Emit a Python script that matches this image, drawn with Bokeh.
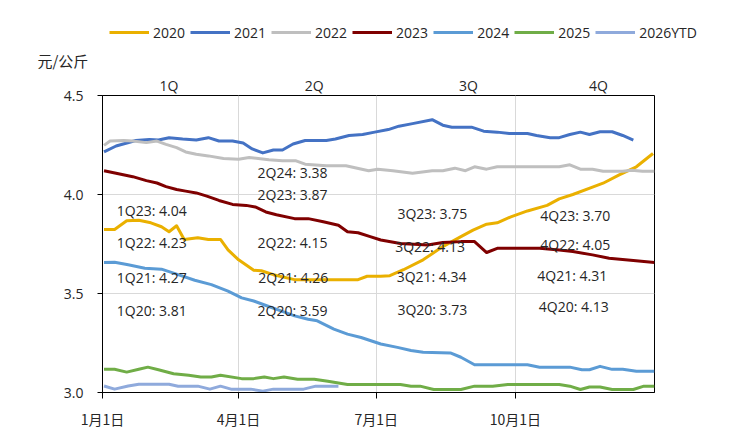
from bokeh.plotting import figure
from bokeh.layouts import column
from bokeh.models import FixedTicker, LinearAxis, Legend, LegendItem, Range1d
from bokeh.core.properties import value
from bokeh.embed import file_html
from bokeh.resources import INLINE

# ---------------- data ----------------
series_names = ["2020", "2021", "2022", "2023", "2024", "2025", "2026YTD"]
series_colors = ["#EAB000", "#4472C4", "#BFBFBF", "#7F0000", "#5B9BD5", "#70AD47", "#8FAADC"]

days_2020 = [1, 8, 16, 24, 32, 39, 44, 49, 54, 63, 70, 78, 83, 90, 100, 105, 113, 127, 138, 149,
             169, 175, 184, 190, 199, 212, 225, 237, 245, 254, 261, 270, 281, 294, 302, 311, 324,
             331, 342, 353, 364]
vals_2020 = [3.823, 3.823, 3.867, 3.87, 3.857, 3.837, 3.812, 3.842, 3.773, 3.782, 3.773, 3.773,
             3.72, 3.67, 3.617, 3.615, 3.595, 3.57, 3.57, 3.57, 3.57, 3.587, 3.587, 3.59, 3.62,
             3.67, 3.737, 3.787, 3.82, 3.85, 3.857, 3.887, 3.917, 3.945, 3.978, 4.0, 4.037,
             4.057, 4.1, 4.14, 4.207]

days_2021 = [1, 9, 22, 31, 37, 44, 53, 62, 70, 77, 86, 93, 99, 106, 113, 119, 126, 134, 148,
             154, 163, 172, 180, 189, 196, 205, 218, 225, 231, 244, 252, 261, 269, 281, 287, 296,
             302, 309, 316, 322, 329, 337, 344, 351]
vals_2021 = [4.215, 4.245, 4.273, 4.278, 4.275, 4.287, 4.28, 4.275, 4.287, 4.27, 4.27, 4.26,
             4.23, 4.21, 4.225, 4.225, 4.255, 4.273, 4.273, 4.28, 4.298, 4.303, 4.315, 4.328,
             4.345, 4.358, 4.378, 4.35, 4.34, 4.34, 4.32, 4.315, 4.308, 4.308, 4.298, 4.287,
             4.287, 4.303, 4.315, 4.303, 4.317, 4.317, 4.298, 4.275]

days_2022 = [1, 5, 14, 20, 29, 36, 42, 49, 55, 62, 70, 80, 90, 97, 103, 110, 119, 128, 134,
             148, 161, 176, 182, 192, 205, 218, 225, 233, 240, 246, 254, 261, 276, 302, 309, 316,
             324, 331, 344, 350, 357, 365]
vals_2022 = [4.248, 4.27, 4.273, 4.27, 4.262, 4.27, 4.253, 4.237, 4.215, 4.203, 4.195, 4.182,
             4.178, 4.187, 4.182, 4.175, 4.17, 4.17, 4.153, 4.145, 4.145, 4.12, 4.128, 4.12,
             4.107, 4.12, 4.12, 4.133, 4.12, 4.14, 4.128, 4.14, 4.14, 4.14, 4.15, 4.128, 4.128,
             4.117, 4.117, 4.123, 4.117, 4.117]

days_2023 = [1, 9, 20, 29, 36, 42, 49, 55, 62, 69, 77, 86, 95, 101, 108, 115, 127, 136, 146,
             156, 162, 169, 177, 184, 197, 215, 225, 237, 246, 254, 261, 274, 289, 302, 311,
             324, 335, 351, 365]
vals_2023 = [4.12, 4.107, 4.09, 4.07, 4.058, 4.04, 4.025, 4.017, 4.008, 3.992, 3.97, 3.95,
             3.945, 3.937, 3.912, 3.898, 3.878, 3.878, 3.862, 3.845, 3.812, 3.807, 3.787, 3.77,
             3.753, 3.745, 3.758, 3.762, 3.762, 3.707, 3.728, 3.728, 3.728, 3.72, 3.712, 3.695,
             3.678, 3.667, 3.657]

days_2024 = [1, 8, 17, 28, 39, 50, 61, 72, 83, 92, 100, 109, 118, 127, 136, 142, 153, 162,
             171, 184, 195, 204, 212, 230, 237, 246, 281, 289, 309, 317, 322, 329, 337, 344,
             353, 365]
vals_2024 = [3.657, 3.658, 3.645, 3.628, 3.623, 3.595, 3.567, 3.545, 3.512, 3.478, 3.462,
             3.437, 3.412, 3.387, 3.37, 3.362, 3.32, 3.295, 3.278, 3.245, 3.228, 3.212, 3.203,
             3.2, 3.178, 3.14, 3.14, 3.128, 3.128, 3.115, 3.115, 3.132, 3.117, 3.117, 3.107,
             3.107]

days_2025 = [1, 8, 16, 24, 30, 37, 47, 57, 65, 72, 78, 92, 100, 107, 113, 120, 129, 140, 149,
             162, 184, 197, 204, 210, 219, 237, 246, 258, 268, 302, 309, 316, 322, 329, 337,
             351, 358, 365]
vals_2025 = [3.117, 3.117, 3.103, 3.117, 3.128, 3.115, 3.095, 3.087, 3.078, 3.078, 3.087,
             3.07, 3.07, 3.078, 3.07, 3.078, 3.067, 3.067, 3.057, 3.04, 3.04, 3.04, 3.032,
             3.032, 3.015, 3.015, 3.032, 3.032, 3.04, 3.04, 3.032, 3.015, 3.028, 3.028, 3.015,
             3.015, 3.032, 3.032]

days_2026 = [1, 8, 17, 24, 44, 50, 63, 71, 78, 85, 98, 106, 113, 133, 141, 156]
vals_2026 = [3.033, 3.017, 3.033, 3.042, 3.042, 3.032, 3.032, 3.017, 3.032, 3.017, 3.017,
             3.007, 3.017, 3.017, 3.032, 3.032]

x_tick_days = [0, 90, 181, 273]
x_tick_labels = ["1月1日", "4月1日", "7月1日", "10月1日"]
y_ticks = [3.0, 3.5, 4.0, 4.5]
quarter_days = [44, 140, 242, 328]
quarter_labels = ["1Q", "2Q", "3Q", "4Q"]
unit_label = "元/公斤"

ann_labels = ["1Q23: 4.04", "1Q22: 4.23", "1Q21: 4.27", "1Q20: 3.81",
              "2Q24: 3.38", "2Q23: 3.87", "2Q22: 4.15", "2Q21: 4.26", "2Q20: 3.59",
              "3Q23: 3.75", "3Q22: 4.13", "3Q21: 4.34", "3Q20: 3.73",
              "4Q23: 3.70", "4Q22: 4.05", "4Q21: 4.31", "4Q20: 4.13"]
ann_days = [9.5, 9.5, 9.5, 9.5,
            102.5, 102.5, 102.5, 103, 102.5,
            195, 193.5, 194.5, 195,
            289.5, 289.5, 287.5, 288.5]
ann_vals = [3.921, 3.757, 3.582, 3.414,
            4.113, 4.0, 3.757, 3.582, 3.414,
            3.906, 3.737, 3.587, 3.417,
            3.892, 3.747, 3.592, 3.432]

all_days = [days_2020, days_2021, days_2022, days_2023, days_2024, days_2025, days_2026]
all_vals = [vals_2020, vals_2021, vals_2022, vals_2023, vals_2024, vals_2025, vals_2026]

# ---------------- layout numbers ----------------
TXT = "#262626"
W = 724
BL, BR = 102, 70            # main plot left / right borders
FW = W - BL - BR            # frame width (552)
HEAD_H = 72                 # header strip (legend, unit label)
DAY_SPAN = 365.0
px_per_day = FW / DAY_SPAN

# ---------------- main plot ----------------
p = figure(width=W, height=359,
           x_range=Range1d(0, DAY_SPAN), y_range=Range1d(3.0, 4.5),
           output_backend="svg", toolbar_location=None,
           min_border_left=BL, min_border_right=BR, min_border_top=21, min_border_bottom=38,
           background_fill_color="white", border_fill_color="white")
p.outline_line_color = "black"
p.outline_line_width = 1

p.xaxis.ticker = FixedTicker(ticks=x_tick_days)
p.xaxis.major_label_overrides = {d: l for d, l in zip(x_tick_days, x_tick_labels)}
p.xaxis.major_label_text_font = "Noto Sans CJK SC"
p.xaxis.major_label_text_font_size = "14px"
p.xaxis.major_label_text_color = TXT
p.xaxis.major_tick_out = 6
p.xaxis.major_tick_in = 0
p.xaxis.minor_tick_line_color = None
p.xaxis.major_label_standoff = 10
p.xaxis.axis_line_color = "black"
p.xaxis.major_tick_line_color = "black"

p.yaxis.ticker = FixedTicker(ticks=y_ticks)
p.yaxis.major_label_overrides = {t: f"{t:.1f}" for t in y_ticks}
p.yaxis.major_label_text_font = "Open Sans"
p.yaxis.major_label_text_font_size = "14px"
p.yaxis.major_label_text_color = TXT
p.yaxis.major_tick_out = 5
p.yaxis.major_tick_in = 0
p.yaxis.minor_tick_line_color = None
p.yaxis.major_label_standoff = 14
p.yaxis.axis_line_color = "black"
p.yaxis.major_tick_line_color = "black"

p.xgrid.ticker = FixedTicker(ticks=x_tick_days[1:])
p.ygrid.ticker = FixedTicker(ticks=y_ticks[1:3])
p.xgrid.grid_line_color = "#D9D9D9"
p.ygrid.grid_line_color = "#D9D9D9"

qa = LinearAxis(ticker=FixedTicker(ticks=quarter_days),
                major_label_overrides={d: l for d, l in zip(quarter_days, quarter_labels)},
                axis_line_color=None, major_tick_line_color=None, minor_tick_line_color=None,
                major_tick_out=0, major_label_standoff=1, major_label_text_font="Open Sans",
                major_label_text_font_size="14px", major_label_text_color=TXT)
p.add_layout(qa, "above")

for col, d, v in zip(series_colors, all_days, all_vals):
    p.line(d, v, line_color=col, line_width=3, line_join="round")

p.text(x=ann_days, y=ann_vals, text=ann_labels, text_font=value("Open Sans"),
       text_font_size="14px", text_color=TXT, text_align="left", text_baseline="middle")

# ---------------- header strip (same day scale as the main plot) ----------------
head = figure(width=W, height=HEAD_H,
              x_range=Range1d(-BL / px_per_day, (W - BL) / px_per_day),
              y_range=Range1d(0, HEAD_H),
              output_backend="svg", toolbar_location=None,
              x_axis_location=None, y_axis_location=None,
              min_border_left=0, min_border_right=0, min_border_top=0, min_border_bottom=0,
              background_fill_color="white", border_fill_color="white")
head.outline_line_color = None
head.xgrid.visible = False
head.ygrid.visible = False
head.extra_y_ranges = {"hidden": Range1d(10, 11)}

# do not align the header's frame with the main plot's frame
for fig in (head, p):
    if "frame_align" in fig.properties():
        fig.frame_align = False

items = []
for name, col, d, v in zip(series_names, series_colors, all_days, all_vals):
    r = head.line(d, v, line_color=col, line_width=3, y_range_name="hidden")
    items.append(LegendItem(label=name, renderers=[r]))

legend = Legend(items=items, location=(109, 30), orientation="horizontal",
                glyph_width=40, glyph_height=20, label_standoff=4, spacing=5,
                padding=0, margin=0, label_text_font="Open Sans", label_text_font_size="14px",
                label_text_color=TXT, border_line_color=None, background_fill_alpha=0)
head.add_layout(legend)

head.text(x=[-43], y=[12], text=[unit_label], text_font=value("Noto Sans CJK SC"),
          text_font_size="15px", text_color=TXT, text_align="left", text_baseline="middle")

layout = column(head, p, spacing=0)
open("out.html", "w").write(file_html(layout, INLINE))
